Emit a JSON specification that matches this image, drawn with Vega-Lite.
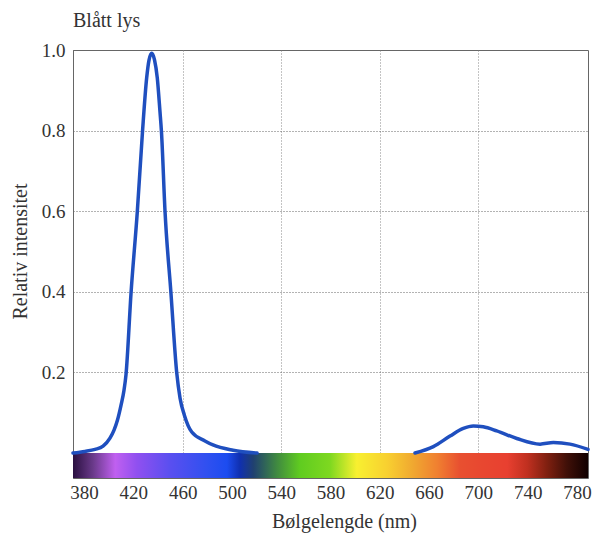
{
  "$schema": "https://vega.github.io/schema/vega-lite/v6.json",
  "width": 515,
  "height": 428,
  "autosize": {"type": "none"},
  "padding": {"left": 73, "top": 50, "right": 7, "bottom": 57},
  "background": "white",
  "title": {
    "text": "Blått lys",
    "anchor": "start",
    "frame": "group",
    "font": "Liberation Serif, Times New Roman, serif",
    "fontSize": 20,
    "fontWeight": "normal",
    "color": "#333",
    "baseline": "alphabetic",
    "offset": 22,
    "dy": 28
  },
  "config": {
    "font": "Liberation Serif, Times New Roman, serif",
    "view": {"stroke": "#666", "strokeWidth": 1},
    "axis": {
      "labelFont": "Liberation Serif, Times New Roman, serif",
      "titleFont": "Liberation Serif, Times New Roman, serif",
      "labelColor": "#333",
      "titleColor": "#333",
      "titleFontWeight": "normal",
      "labelFontSize": 19,
      "titleFontSize": 20,
      "ticks": false
    }
  },
  "datasets": {
    "curve": [
      {"nm": 371.0, "rel": 0.0, "part": "a"},
      {"nm": 380.7, "rel": 0.004, "part": "a"},
      {"nm": 388.9, "rel": 0.009, "part": "a"},
      {"nm": 395.4, "rel": 0.017, "part": "a"},
      {"nm": 401.0, "rel": 0.037, "part": "a"},
      {"nm": 404.3, "rel": 0.057, "part": "a"},
      {"nm": 407.1, "rel": 0.082, "part": "a"},
      {"nm": 410.0, "rel": 0.119, "part": "a"},
      {"nm": 412.4, "rel": 0.156, "part": "a"},
      {"nm": 414.0, "rel": 0.194, "part": "a"},
      {"nm": 418.1, "rel": 0.397, "part": "a"},
      {"nm": 423.2, "rel": 0.599, "part": "a"},
      {"nm": 427.4, "rel": 0.797, "part": "a"},
      {"nm": 430.8, "rel": 0.931, "part": "a"},
      {"nm": 432.7, "rel": 0.975, "part": "a"},
      {"nm": 434.9, "rel": 0.992, "part": "a"},
      {"nm": 437.2, "rel": 0.975, "part": "a"},
      {"nm": 439.4, "rel": 0.931, "part": "a"},
      {"nm": 441.6, "rel": 0.847, "part": "a"},
      {"nm": 442.8, "rel": 0.797, "part": "a"},
      {"nm": 445.7, "rel": 0.599, "part": "a"},
      {"nm": 450.5, "rel": 0.397, "part": "a"},
      {"nm": 455.2, "rel": 0.199, "part": "a"},
      {"nm": 457.9, "rel": 0.136, "part": "a"},
      {"nm": 461.4, "rel": 0.094, "part": "a"},
      {"nm": 467.4, "rel": 0.052, "part": "a"},
      {"nm": 478.1, "rel": 0.03, "part": "a"},
      {"nm": 484.6, "rel": 0.02, "part": "a"},
      {"nm": 500.9, "rel": 0.007, "part": "a"},
      {"nm": 520.4, "rel": 0.0, "part": "a"},
      {"nm": 648.6, "rel": 0.0, "part": "b"},
      {"nm": 663.5, "rel": 0.016, "part": "b"},
      {"nm": 677.0, "rel": 0.042, "part": "b"},
      {"nm": 687.8, "rel": 0.061, "part": "b"},
      {"nm": 695.9, "rel": 0.067, "part": "b"},
      {"nm": 704.0, "rel": 0.065, "part": "b"},
      {"nm": 714.9, "rel": 0.055, "part": "b"},
      {"nm": 731.2, "rel": 0.036, "part": "b"},
      {"nm": 750.1, "rel": 0.022, "part": "b"},
      {"nm": 760.9, "rel": 0.026, "part": "b"},
      {"nm": 774.4, "rel": 0.022, "part": "b"},
      {"nm": 789.0, "rel": 0.009, "part": "b"}
    ],
    "band": [
      {"band": "visible spectrum", "from": 371, "to": 789}
    ]
  },
  "layer": [
    {
      "data": {"name": "band"},
      "mark": {
        "type": "rect",
        "fill": {
          "gradient": "linear",
          "x1": 0, "y1": 0, "x2": 1, "y2": 0,
          "stops": [
            {"offset": 0.0, "color": "#2a1040"},
            {"offset": 0.039, "color": "#6a3a8a"},
            {"offset": 0.082, "color": "#c060f0"},
            {"offset": 0.124, "color": "#9050f0"},
            {"offset": 0.188, "color": "#5a4ff0"},
            {"offset": 0.26, "color": "#3050f0"},
            {"offset": 0.299, "color": "#1c4cf0"},
            {"offset": 0.324, "color": "#1030b0"},
            {"offset": 0.35, "color": "#204070"},
            {"offset": 0.396, "color": "#408a40"},
            {"offset": 0.441, "color": "#60cc20"},
            {"offset": 0.499, "color": "#7ed820"},
            {"offset": 0.551, "color": "#f8f030"},
            {"offset": 0.61, "color": "#f8d030"},
            {"offset": 0.66, "color": "#f0a830"},
            {"offset": 0.707, "color": "#f08030"},
            {"offset": 0.751, "color": "#e85030"},
            {"offset": 0.79, "color": "#e84830"},
            {"offset": 0.843, "color": "#e84030"},
            {"offset": 0.882, "color": "#c03020"},
            {"offset": 0.92, "color": "#802010"},
            {"offset": 0.959, "color": "#401008"},
            {"offset": 1.0, "color": "#100000"}
          ]
        }
      },
      "encoding": {
        "x": {"field": "from", "type": "quantitative"},
        "x2": {"field": "to"},
        "y": {"datum": -0.062, "type": "quantitative"},
        "y2": {"datum": 0}
      }
    },
    {
      "data": {"name": "curve"},
      "mark": {"type": "line", "interpolate": "monotone", "color": "#1f4fbf", "strokeWidth": 3.5, "strokeCap": "round"},
      "encoding": {
        "x": {
          "field": "nm",
          "type": "quantitative",
          "scale": {"domain": [371, 789], "nice": false, "zero": false},
          "axis": {
            "title": "Bølgelengde (nm)",
            "labelFont": "Liberation Serif, Times New Roman, serif",
            "titleFont": "Liberation Serif, Times New Roman, serif",
            "values": [380, 420, 460, 500, 540, 580, 620, 660, 700, 740, 780],
            "domain": false,
            "labelPadding": 5,
            "labelBaseline": "top",
            "grid": true,
            "gridColor": "#888",
            "gridDash": [1, 2],
            "gridOpacity": {"condition": {"test": "datum.value >= 450 && datum.value <= 710 && datum.value % 80 == 60", "value": 1}, "value": 0},
            "titleX": 271,
            "titleY": 43,
            "titleBaseline": "middle",
            "titleAlign": "center"
          }
        },
        "y": {
          "field": "rel",
          "type": "quantitative",
          "scale": {"domain": [-0.062, 1], "nice": false, "zero": false},
          "axis": {
            "title": "Relativ intensitet",
            "labelFont": "Liberation Serif, Times New Roman, serif",
            "titleFont": "Liberation Serif, Times New Roman, serif",
            "values": [0.2, 0.4, 0.6, 0.8, 1.0],
            "format": ".1f",
            "domainColor": "#666",
            "labelPadding": 8,
            "grid": true,
            "gridColor": "#666",
            "gridDash": [1, 2],
            "titleX": -53,
            "titleY": 201,
            "titleAngle": -90,
            "titleBaseline": "middle",
            "titleAlign": "center"
          }
        },
        "detail": {"field": "part", "type": "nominal"}
      }
    }
  ]
}
